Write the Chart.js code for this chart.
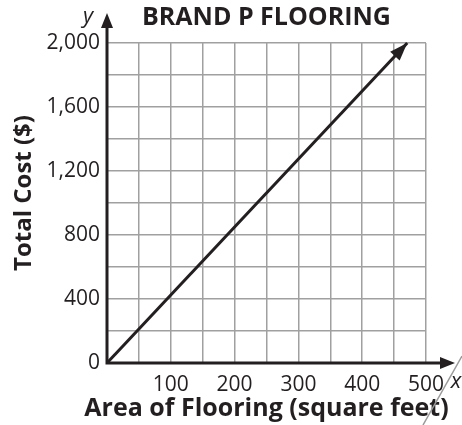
<!DOCTYPE html>
<html lang="en">
<head>
<meta charset="UTF-8">
<title>Brand P Flooring</title>
<script src="https://cdn.jsdelivr.net/npm/chart.js"></script>
<style>
  body { margin: 0; background: #fff; }
  canvas { display: block; }
</style>
</head>
<body>
<canvas id="floorChart" width="462" height="425"></canvas>
<script>
// values: the line starts at the origin and leaves the grid at $2,000
const areaSqFt = [0, 470.6];
const totalCost = [0, 2000];
const xTickLabels = [100, 200, 300, 400, 500];
const yTickLabels = [0, 400, 800, 1200, 1600, 2000];
const xTitle = 'Area of Flooring (square feet)';
const yTitle = 'Total Cost ($)';

const ink = '#231f20';
const gridGray = '#a0a0a0';
const fontFamily = '"Open Sans", "Noto Sans", sans-serif';

// filled triangle pointing from (x0,y0) towards (x1,y1), tip at (x1,y1)
function arrowHead(ctx, x0, y0, x1, y1, len, half) {
    const a = Math.atan2(y1 - y0, x1 - x0);
    const bx = x1 - len * Math.cos(a), by = y1 - len * Math.sin(a);
    ctx.beginPath();
    ctx.moveTo(x1, y1);
    ctx.lineTo(bx + half * Math.sin(a), by - half * Math.cos(a));
    ctx.lineTo(bx - half * Math.sin(a), by + half * Math.cos(a));
    ctx.closePath();
    ctx.fill();
}

const arrowsPlugin = {
    id: 'arrows',
    afterDatasetsDraw(chart) {
        const { ctx, scales: { x, y } } = chart;
        const ox = x.getPixelForValue(0), oy = y.getPixelForValue(0);
        const yTip = y.top - 30, xTip = x.right + 29;
        ctx.save();
        ctx.strokeStyle = ink;
        ctx.fillStyle = ink;
        ctx.lineWidth = 3;

        // axes with arrows
        ctx.beginPath();
        ctx.moveTo(ox, yTip + 8);
        ctx.lineTo(ox, oy);
        ctx.lineTo(xTip - 8, oy);
        ctx.stroke();
        arrowHead(ctx, ox, oy, ox, yTip, 15, 6);
        arrowHead(ctx, ox, oy, xTip, oy, 15, 6);

        // arrow on the end of the cost line
        const pts = chart.getDatasetMeta(0).data;
        const a = pts[pts.length - 2], b = pts[pts.length - 1];
        arrowHead(ctx, a.x, a.y, b.x, b.y, 18, 6.5);

        // variable names
        ctx.font = 'italic 22px ' + fontFamily;
        ctx.textAlign = 'center';
        ctx.textBaseline = 'middle';
        ctx.fillText('y', ox - 19, yTip + 4);
        ctx.fillText('x', xTip + 1, oy + 19);

        // axis titles (the x one runs wider than the grid, so the scale title would squeeze it)
        ctx.font = 'bold 25px ' + fontFamily;
        ctx.fillText(xTitle, (x.left + x.right) / 2, chart.height - 16);
        ctx.save();
        ctx.translate(24, (y.top + y.bottom) / 2 - 10);
        ctx.rotate(-Math.PI / 2);
        ctx.font = 'bold 24px ' + fontFamily;
        ctx.fillText(yTitle, 0, 0);
        ctx.restore();

        // pencil stroke across the bottom right corner of the scan
        ctx.strokeStyle = '#9a9a9a';
        ctx.lineWidth = 1.5;
        ctx.beginPath();
        ctx.moveTo(chart.width, 356);
        ctx.lineTo(423, chart.height);
        ctx.stroke();
        ctx.restore();
    }
};

const points = areaSqFt.map((v, i) => ({ x: v, y: totalCost[i] }));

new Chart(document.getElementById('floorChart'), {
    type: 'scatter',
    data: {
        datasets: [{
            data: points,
            showLine: true,
            borderColor: ink,
            borderWidth: 3,
            pointRadius: 0,
            clip: false
        }]
    },
    options: {
        responsive: false,
        animation: false,
        devicePixelRatio: 1,
        layout: { padding: { top: 0, right: 36, bottom: 0, left: 0 } },
        plugins: {
            legend: { display: false },
            tooltip: { enabled: false },
            title: {
                display: true,
                text: 'BRAND P FLOORING',
                fullSize: false,
                color: ink,
                font: { family: fontFamily, size: 25, weight: 'bold', lineHeight: 1 },
                padding: { top: 5, bottom: 13 }
            }
        },
        scales: {
            x: {
                type: 'linear',
                min: 0,
                max: 500,
                afterFit(scale) { scale.height = 62; },
                border: { display: false },
                grid: { color: gridGray, lineWidth: 1.5, drawTicks: false },
                ticks: {
                    stepSize: 50,
                    autoSkip: false,
                    maxRotation: 0,
                    padding: 9,
                    color: ink,
                    font: { family: fontFamily, size: 21 },
                    callback: v => xTickLabels.includes(v) ? String(v) : ''
                }
            },
            y: {
                type: 'linear',
                min: 0,
                max: 2000,
                afterFit(scale) { scale.width = 107; },
                border: { display: false },
                grid: { color: gridGray, lineWidth: 1.5, drawTicks: false },
                ticks: {
                    stepSize: 200,
                    autoSkip: false,
                    padding: 7,
                    color: ink,
                    font: { family: fontFamily, size: 21 },
                    callback: v => yTickLabels.includes(v) ? v.toLocaleString('en-US') : ''
                }
            }
        }
    },
    plugins: [arrowsPlugin]
});
</script>
</body>
</html>
